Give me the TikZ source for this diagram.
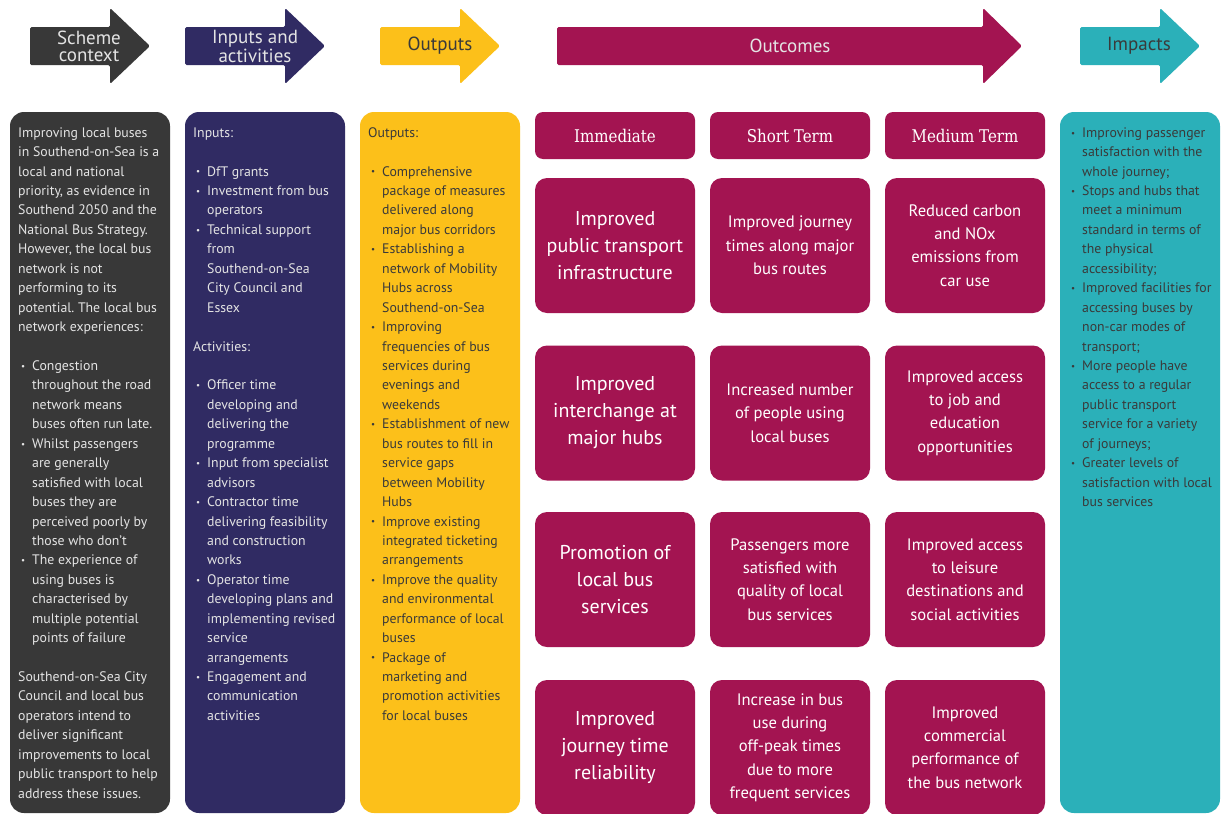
\documentclass[tikz,border=0pt]{standalone}
\usepackage{fontspec}
\setmainfont{PT Sans}
\newfontfamily\slabfont{DejaVu Serif}[FakeStretch=0.86]
\frenchspacing
\definecolor{cdark}{HTML}{383838}
\definecolor{cnavy}{HTML}{302B63}
\definecolor{cyell}{HTML}{FCC01A}
\definecolor{cmag}{HTML}{A31451}
\definecolor{cteal}{HTML}{2BB0B9}
\definecolor{ctxtlight}{HTML}{E4E4E4}
\definecolor{ctxtdark}{HTML}{3A3A3A}
\newcommand\bitem[1]{\hspace*{14pt}\llap{\raisebox{1.2pt}{\fontsize{9}{9}\selectfont\textbullet}\hspace{7pt}}#1}
\newcommand\bcont[1]{\hspace*{14pt}#1}
\tikzset{
  panel/.style={rounded corners=14pt},
  ptext/.style={anchor=north west,inner sep=0pt,align=left,font=\fontsize{13.8}{19.44}\selectfont},
  obox/.style={fill=cmag,rounded corners=12pt,minimum width=160pt,minimum height=135pt,inner sep=0pt,align=center,text=white},
  bigt/.style={font=\fontsize{20}{27}\selectfont},
  medt/.style={font=\fontsize{16.6}{23.3}\selectfont},
  hbox/.style={fill=cmag,rounded corners=8pt,minimum width=160pt,minimum height=47pt,inner sep=0pt,text=white,font=\slabfont\fontsize{17.5}{20}\selectfont},
  atext/.style={inner sep=0pt,align=center,font=\fontsize{19}{17}\selectfont},
  arrowshape/.style={rounded corners=1.5pt}
}
\begin{document}
\begin{tikzpicture}[x=1pt,y=-1pt]
\useasboundingbox (0,0) rectangle (1221,814);
\fill[white] (0,0) rectangle (1221,814);
% header arrows
\fill[cdark,arrowshape] (30,27) -- (110,27) -- (110,8) -- (150,46) -- (110,84) -- (110,65) -- (30,65) -- cycle;
\fill[cnavy,arrowshape] (185,27) -- (285,27) -- (285,8) -- (325,46) -- (285,84) -- (285,65) -- (185,65) -- cycle;
\fill[cyell,arrowshape] (380,27) -- (460,27) -- (460,8) -- (500,46) -- (460,84) -- (460,65) -- (380,65) -- cycle;
\fill[cmag,arrowshape] (557,27) -- (983,27) -- (983,8) -- (1022,46) -- (983,84) -- (983,65) -- (557,65) -- cycle;
\fill[cteal,arrowshape] (1080,27) -- (1160,27) -- (1160,8) -- (1200,46) -- (1160,84) -- (1160,65) -- (1080,65) -- cycle;
\node[atext,text=ctxtlight] (a1) at (89,46.5) {Scheme\\context};
\node[atext,text=ctxtlight] (a2) at (255,46.5) {Inputs and\\activities};
\node[atext,text=ctxtdark] (a3) at (440,46) {Outputs};
\node[atext,text=ctxtlight] (a4) at (790,46) {Outcomes};
\node[atext,text=ctxtdark] (a5) at (1139,46) {Impacts};
% panels
\fill[cdark,panel] (10,112) rectangle (170,813);
\fill[cnavy,panel] (185,112) rectangle (345,813);
\fill[cyell,panel] (360,112) rectangle (520,813);
\fill[cteal,panel] (1060,112) rectangle (1220,813);
% scheme context text
\node[ptext,text=ctxtlight] (t1) at (18,123.4) {\strut Improving local buses\\
in Southend-on-Sea is a\\
local and national\\
priority, as evidence in\\
Southend 2050 and the\\
National Bus Strategy.\\
However, the local bus\\
network is not\\
performing to its\\
potential. The local bus\\
network experiences:\\[19.44pt]
\bitem{Congestion}\\
\bcont{throughout the road}\\
\bcont{network means}\\
\bcont{buses often run late.}\\
\bitem{Whilst passengers}\\
\bcont{are generally}\\
\bcont{satisfied with local}\\
\bcont{buses they are}\\
\bcont{perceived poorly by}\\
\bcont{those who don’t}\\
\bitem{The experience of}\\
\bcont{using buses is}\\
\bcont{characterised by}\\
\bcont{multiple potential}\\
\bcont{points of failure}\\[19.44pt]
Southend-on-Sea City\\
Council and local bus\\
operators intend to\\
deliver significant\\
improvements to local\\
public transport to help\\
address these issues.};
% inputs text
\node[ptext,text=ctxtlight] (t2) at (193,123.4) {\strut Inputs:\\[19.44pt]
\bitem{DfT grants}\\
\bitem{Investment from bus}\\
\bcont{operators}\\
\bitem{Technical support}\\
\bcont{from}\\
\bcont{Southend-on-Sea}\\
\bcont{City Council and}\\
\bcont{Essex}\\[19.44pt]
Activities:\\[19.44pt]
\bitem{Officer time}\\
\bcont{developing and}\\
\bcont{delivering the}\\
\bcont{programme}\\
\bitem{Input from specialist}\\
\bcont{advisors}\\
\bitem{Contractor time}\\
\bcont{delivering feasibility}\\
\bcont{and construction}\\
\bcont{works}\\
\bitem{Operator time}\\
\bcont{developing plans and}\\
\bcont{implementing revised}\\
\bcont{service}\\
\bcont{arrangements}\\
\bitem{Engagement and}\\
\bcont{communication}\\
\bcont{activities}};
% outputs text
\node[ptext,text=ctxtdark] (t3) at (368,123.4) {\strut Outputs:\\[19.44pt]
\bitem{Comprehensive}\\
\bcont{package of measures}\\
\bcont{delivered along}\\
\bcont{major bus corridors}\\
\bitem{Establishing a}\\
\bcont{network of Mobility}\\
\bcont{Hubs across}\\
\bcont{Southend-on-Sea}\\
\bitem{Improving}\\
\bcont{frequencies of bus}\\
\bcont{services during}\\
\bcont{evenings and}\\
\bcont{weekends}\\
\bitem{Establishment of new}\\
\bcont{bus routes to fill in}\\
\bcont{service gaps}\\
\bcont{between Mobility}\\
\bcont{Hubs}\\
\bitem{Improve existing}\\
\bcont{integrated ticketing}\\
\bcont{arrangements}\\
\bitem{Improve the quality}\\
\bcont{and environmental}\\
\bcont{performance of local}\\
\bcont{buses}\\
\bitem{Package of}\\
\bcont{marketing and}\\
\bcont{promotion activities}\\
\bcont{for local buses}};
% impacts text
\node[ptext,text=ctxtdark] (t5) at (1068,123.4) {\strut\bitem{Improving passenger}\\
\bcont{satisfaction with the}\\
\bcont{whole journey;}\\
\bitem{Stops and hubs that}\\
\bcont{meet a minimum}\\
\bcont{standard in terms of}\\
\bcont{the physical}\\
\bcont{accessibility;}\\
\bitem{Improved facilities for}\\
\bcont{accessing buses by}\\
\bcont{non-car modes of}\\
\bcont{transport;}\\
\bitem{More people have}\\
\bcont{access to a regular}\\
\bcont{public transport}\\
\bcont{service for a variety}\\
\bcont{of journeys;}\\
\bitem{Greater levels of}\\
\bcont{satisfaction with local}\\
\bcont{bus services}};
% outcome headers
\node[hbox] (h1) at (615,135.5) {Immediate};
\node[hbox] (h2) at (790,135.5) {Short Term};
\node[hbox] (h3) at (965,135.5) {Medium Term};
% outcome boxes
\node[obox,bigt] (o11) at (615,245.5) {Improved\\public transport\\infrastructure};
\node[obox,medt] (o12) at (790,245.5) {Improved journey\\times along major\\bus routes};
\node[obox,medt] (o13) at (965,245.5) {Reduced carbon\\and NOx\\emissions from\\car use};
\node[obox,bigt] (o21) at (615,413) {Improved\\interchange at\\major hubs};
\node[obox,medt] (o22) at (790,413) {Increased number\\of people using\\local buses};
\node[obox,medt] (o23) at (965,413) {Improved access\\to job and\\education\\opportunities};
\node[obox,bigt] (o31) at (615,579.5) {Promotion of\\local bus\\services};
\node[obox,medt] (o32) at (790,579.5) {Passengers more\\satisfied with\\quality of local\\bus services};
\node[obox,medt] (o33) at (965,579.5) {Improved access\\to leisure\\destinations and\\social activities};
\node[obox,bigt] (o41) at (615,747.5) {Improved\\journey time\\reliability};
\node[obox,medt] (o42) at (790,747.5) {Increase in bus\\use during\\off-peak times\\due to more\\frequent services};
\node[obox,medt] (o43) at (965,747.5) {Improved\\commercial\\performance of\\the bus network};
\end{tikzpicture}
\end{document}
